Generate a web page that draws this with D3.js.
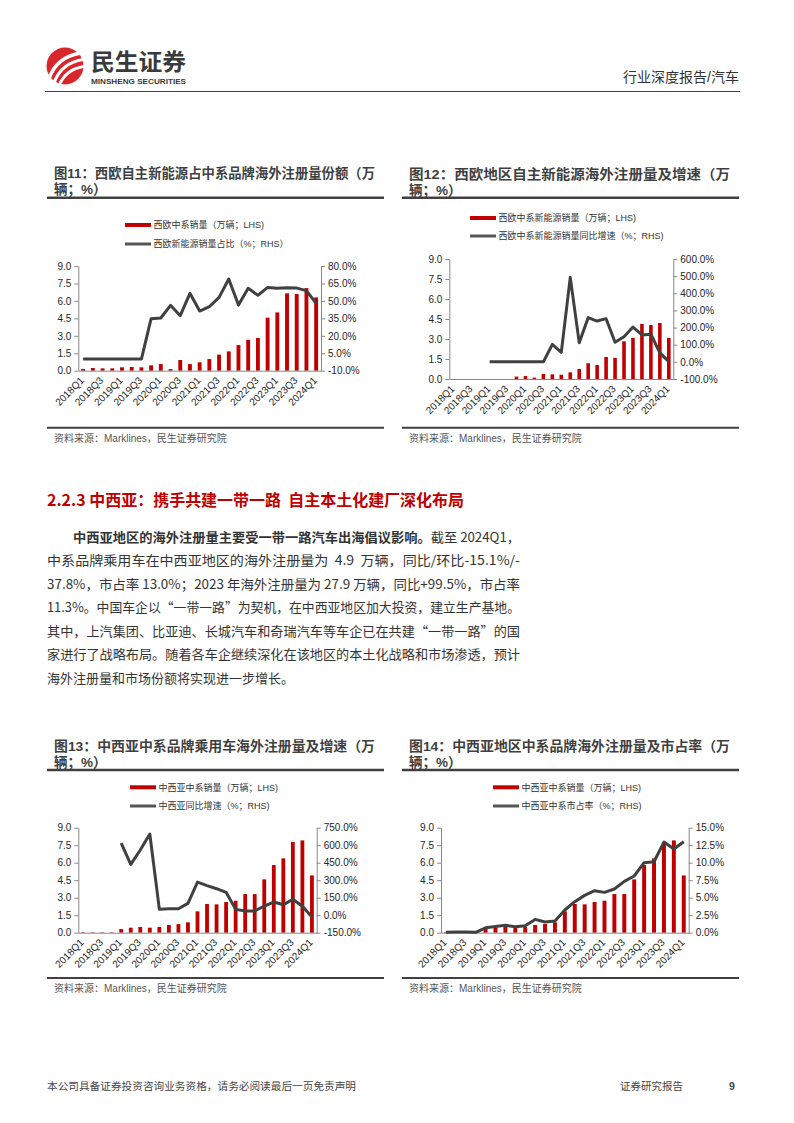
<!DOCTYPE html>
<html><head><meta charset="utf-8">
<script src="https://cdn.jsdelivr.net/npm/d3@7"></script>
<style>body{margin:0;background:#fff} svg{display:block}</style>
</head><body><svg id="page" width="794" height="1123"></svg>
<script>
// ---------- data ----------
const quarters = ["2018Q1","2018Q2","2018Q3","2018Q4","2019Q1","2019Q2","2019Q3","2019Q4",
  "2020Q1","2020Q2","2020Q3","2020Q4","2021Q1","2021Q2","2021Q3","2021Q4",
  "2022Q1","2022Q2","2022Q3","2022Q4","2023Q1","2023Q2","2023Q3","2023Q4","2024Q1"];
const xTickLabels = ["2018Q1","2018Q3","2019Q1","2019Q3","2020Q1","2020Q3","2021Q1","2021Q3",
  "2022Q1","2022Q3","2023Q1","2023Q3","2024Q1"];
const leftTicks = [0,1.5,3,4.5,6,7.5,9];

// Fig 11
const weSales = [0.15,0.23,0.2,0.2,0.29,0.32,0.29,0.46,0.57,0.14,0.92,0.57,0.72,1.0,1.38,1.66,2.2,2.66,2.81,4.56,5.01,6.65,6.59,7.1,6.3];
const weNevShare = [0,0,0,0,0,0,0,34.7,35.3,46.2,37.3,56.5,41.3,45,53,68.8,46.4,60.8,54.8,61.6,60.8,61.3,61,58.8,47.9];
const fig11RightTicks = [-10,5,20,35,50,65,80];
// Fig 12
const weNevSales = [0,0,0,0,0,0,0,0.18,0.22,0.1,0.38,0.35,0.32,0.5,0.75,1.18,1.05,1.65,1.58,2.83,3.08,4.13,4.05,4.2,3.08];
const weNevYoy = [null,null,null,null,0,0,0,0,0,0,0,102,55.6,493,112,258,238,252,114,147,203,157,161,52,1];
const fig12RightTicks = [-100,0,100,200,300,400,500,600];
// Fig 13
const cwaSales = [0.04,0.04,0.04,0.04,0.31,0.43,0.49,0.43,0.49,0.66,0.74,0.89,1.83,2.46,2.43,2.63,2.74,3.31,3.31,4.57,5.8,6.37,7.77,7.91,4.91];
const cwaYoy = [null,null,null,null,618.6,435.7,558.6,695.7,50,55.7,55.7,101,284,253,227,196,50,36,36,78.6,113,90,136,76,-15.1];
const fig13RightTicks = [-150,0,150,300,450,600,750];
// Fig 14
const cwaShare = [0.05,0.1,0.1,0.05,0.7,0.9,1.05,0.86,1.0,1.9,1.52,1.67,3.24,4.43,5.33,6.0,5.76,6.24,7.33,8.1,10.0,10.14,12.95,11.95,13.0];
const fig14RightTicks = [0,2.5,5,7.5,10,12.5,15];

// ---------- page ----------
const svg = d3.select("#page");
const CJK = "'Liberation Sans','Noto Sans CJK SC',sans-serif";
const RED = "#c00000", LINE = "#404040", TXT = "#333";

svg.append("rect").attr("width",794).attr("height",1123).attr("fill","#fff");

// header
const logo = svg.append("g");
logo.append("circle").attr("cx",65).attr("cy",66).attr("r",18.5).attr("fill","#d9262a");
[["M49,79 Q56,57 81,53",3.6],["M54,83 Q61,63 83,59.5",3.2],["M59,85.5 Q66,69 84,66.5",2.8]].forEach(p=>{
  logo.append("path").attr("d",p[0]).attr("fill","none").attr("stroke","#fff").attr("stroke-width",p[1]).attr("stroke-linecap","round");
});
svg.append("text").attr("x",91).attr("y",70).attr("font-family","'Noto Sans CJK SC'").attr("font-weight","bold")
  .attr("font-size",23).attr("fill","#3a3a3a").attr("textLength",95).attr("lengthAdjust","spacingAndGlyphs").text("民生证券");
svg.append("text").attr("x",91).attr("y",83.5).attr("font-family","'Liberation Sans'").attr("font-weight","bold")
  .attr("font-size",8).attr("fill","#3a3a3a").attr("textLength",95).attr("lengthAdjust","spacingAndGlyphs").text("MINSHENG SECURITIES");
svg.append("text").attr("x",739).attr("y",82).attr("text-anchor","end").attr("font-family",CJK)
  .attr("font-size",14).attr("fill",TXT).text("行业深度报告/汽车");
svg.append("line").attr("x1",45).attr("x2",740).attr("y1",91.5).attr("y2",91.5).attr("stroke","#444").attr("stroke-width",1.2);

// ---------- chart function ----------
function drawChart(cfg){
  const g = svg.append("g");
  // title
  g.append("text").attr("x",cfg.tx).attr("y",cfg.ty).attr("font-family",CJK).attr("font-weight","bold")
    .attr("font-size",13.5).attr("fill","#3f3f3f").attr("textLength",321).attr("lengthAdjust","spacingAndGlyphs").text(cfg.title1);
  g.append("text").attr("x",cfg.tx).attr("y",cfg.ty+16).attr("font-family",CJK).attr("font-weight","bold")
    .attr("font-size",13.5).attr("fill","#3f3f3f").text(cfg.title2);
  g.append("line").attr("x1",cfg.rx1).attr("x2",cfg.rx2).attr("y1",cfg.uy).attr("y2",cfg.uy).attr("stroke",LINE).attr("stroke-width",2.5);
  // legend
  g.append("line").attr("x1",cfg.lx).attr("x2",cfg.lx+26).attr("y1",cfg.ly1).attr("y2",cfg.ly1).attr("stroke",RED).attr("stroke-width",4);
  g.append("line").attr("x1",cfg.lx).attr("x2",cfg.lx+26).attr("y1",cfg.ly2).attr("y2",cfg.ly2).attr("stroke","#555").attr("stroke-width",3);
  g.append("text").attr("x",cfg.lx+28.5).attr("y",cfg.ly1+3.2).attr("font-family",CJK).attr("font-size",9).attr("fill",TXT).text(cfg.leg1);
  g.append("text").attr("x",cfg.lx+28.5).attr("y",cfg.ly2+3.2).attr("font-family",CJK).attr("font-size",9).attr("fill",TXT).text(cfg.leg2);

  const x = d3.scaleBand().domain(quarters).range([cfg.left,cfg.right]).paddingInner(0.6).paddingOuter(0.3);
  const yL = d3.scaleLinear().domain([0,9]).range([cfg.bottom,cfg.top]);
  const yR = d3.scaleLinear().domain([cfg.rTicks[0],cfg.rTicks[cfg.rTicks.length-1]]).range([cfg.bottom,cfg.top]);

  g.append("g").selectAll("rect").data(cfg.bars).join("rect")
    .attr("x",(d,i)=>x(quarters[i])).attr("width",x.bandwidth())
    .attr("y",d=>yL(d)).attr("height",d=>cfg.bottom-yL(d)).attr("fill",RED);

  const axL = g.append("g").attr("transform",`translate(${cfg.left},0)`)
    .call(d3.axisLeft(yL).tickValues(leftTicks).tickFormat(d3.format(".1f")).tickSize(4).tickSizeOuter(0).tickPadding(3));
  const axR = g.append("g").attr("transform",`translate(${cfg.right},0)`)
    .call(d3.axisRight(yR).tickValues(cfg.rTicks).tickFormat(d=>d.toFixed(1)+"%").tickSize(4).tickSizeOuter(0).tickPadding(3));
  const axB = g.append("g").attr("transform",`translate(0,${cfg.bottom})`)
    .call(d3.axisBottom(x).tickValues(xTickLabels).tickSize(0).tickSizeOuter(0));
  axB.selectAll("text").attr("x",null).attr("y",null).attr("dy","0.35em")
    .attr("transform",`translate(${x.bandwidth()/2-1},8) rotate(-45)`).style("text-anchor","end");
  [axL,axR,axB].forEach(a=>{
    a.selectAll("text").attr("font-family","'Liberation Sans',sans-serif").attr("font-size",10).attr("fill","#262626");
    a.selectAll("path,line").attr("stroke","#888");
  });
  axB.selectAll(".tick").attr("transform",d=>`translate(${x(d)},0)`);

  const line = d3.line().defined(d=>d!=null).x((d,i)=>x(quarters[i])+x.bandwidth()/2).y(d=>yR(d));
  g.append("path").datum(cfg.lineVals).attr("d",line).attr("fill","none").attr("stroke",LINE)
    .attr("stroke-width",3).attr("stroke-linejoin","round");

  // source
  g.append("line").attr("x1",cfg.rx1).attr("x2",cfg.rx2).attr("y1",cfg.sy).attr("y2",cfg.sy).attr("stroke",LINE).attr("stroke-width",2);
  g.append("text").attr("x",cfg.tx).attr("y",cfg.sy+14).attr("font-family",CJK).attr("font-size",10).attr("fill","#555")
    .text("资料来源：Marklines，民生证券研究院");
}

drawChart({title1:"图11：西欧自主新能源占中系品牌海外注册量份额（万",title2:"辆；%）",tx:54,ty:178,uy:197.7,rx1:47,rx2:384,
  lx:125,ly1:225,ly2:244,leg1:"西欧中系销量（万辆；LHS)",leg2:"西欧新能源销量占比（%；RHS）",
  left:78.3,right:321,top:266,bottom:370.7,bars:weSales,lineVals:weNevShare,rTicks:fig11RightTicks,sy:427.7});
drawChart({title1:"图12：西欧地区自主新能源海外注册量及增速（万",title2:"辆；%）",tx:409,ty:178.5,uy:197.7,rx1:402,rx2:739,
  lx:470,ly1:218,ly2:236,leg1:"西欧中系新能源销量（万辆；LHS)",leg2:"西欧中系新能源销量同比增速（%；RHS)",
  left:449.3,right:673.3,top:259,bottom:379,bars:weNevSales,lineVals:weNevYoy,rTicks:fig12RightTicks,sy:427.7});
drawChart({title1:"图13：中西亚中系品牌乘用车海外注册量及增速（万",title2:"辆；%）",tx:54,ty:750.5,uy:770,rx1:47,rx2:384,
  lx:130,ly1:787.3,ly2:806,leg1:"中西亚中系销量（万辆；LHS)",leg2:"中西亚同比增速（%；RHS)",
  left:78.3,right:316.7,top:827.7,bottom:932.7,bars:cwaSales,lineVals:cwaYoy,rTicks:fig13RightTicks,sy:978});
drawChart({title1:"图14：中西亚地区中系品牌海外注册量及市占率（万",title2:"辆；%）",tx:409,ty:750.5,uy:770,rx1:402,rx2:739,
  lx:493,ly1:787.3,ly2:806,leg1:"中西亚中系销量（万辆；LHS)",leg2:"中西亚中系市占率（%；RHS)",
  left:441,right:688.7,top:827.7,bottom:932.7,bars:cwaSales,lineVals:cwaShare,rTicks:fig14RightTicks,sy:978});

// ---------- section text ----------
svg.append("text").attr("x",47).attr("y",506).attr("font-family","'Noto Sans CJK SC'").attr("font-weight","bold")
  .attr("font-size",16).attr("fill","#c00000").attr("textLength",417).attr("lengthAdjust","spacingAndGlyphs")
  .style("white-space","pre").text("2.2.3 中西亚：携手共建一带一路  自主本土化建厂深化布局");

const paraFont = "'Noto Sans CJK SC',sans-serif";
const l1 = svg.append("text").attr("x",73).attr("y",541.5).attr("font-family",paraFont).attr("font-size",13)
  .attr("fill",TXT).attr("textLength",447).attr("lengthAdjust","spacingAndGlyphs").style("white-space","pre");
l1.append("tspan").attr("font-weight","bold").text("中西亚地区的海外注册量主要受一带一路汽车出海倡议影响。");
l1.append("tspan").text("截至 2024Q1，");
const paraLines = [
  "中系品牌乘用车在中西亚地区的海外注册量为  4.9  万辆，同比/环比-15.1%/-",
  "37.8%，市占率 13.0%；2023 年海外注册量为 27.9 万辆，同比+99.5%，市占率",
  "11.3%。中国车企以“一带一路”为契机，在中西亚地区加大投资，建立生产基地。",
  "其中，上汽集团、比亚迪、长城汽车和奇瑞汽车等车企已在共建“一带一路”的国",
  "家进行了战略布局。随着各车企继续深化在该地区的本土化战略和市场渗透，预计",
  "海外注册量和市场份额将实现进一步增长。"
];
paraLines.forEach((t,i)=>{
  const el = svg.append("text").attr("x",47).attr("y",541.5+23.5*(i+1)).attr("font-family",paraFont)
    .attr("font-size",13).attr("fill",TXT).style("white-space","pre").text(t);
  if(i<paraLines.length-1) el.attr("textLength",473).attr("lengthAdjust","spacingAndGlyphs");
});

// ---------- footer ----------
svg.append("text").attr("x",47).attr("y",1090).attr("font-family",CJK).attr("font-size",10).attr("fill","#444")
  .attr("textLength",309).attr("lengthAdjust","spacingAndGlyphs").text("本公司具备证券投资咨询业务资格，请务必阅读最后一页免责声明");
svg.append("text").attr("x",620).attr("y",1090).attr("font-family",CJK).attr("font-size",10.5).attr("fill","#444").text("证券研究报告");
svg.append("text").attr("x",729).attr("y",1090).attr("font-family",CJK).attr("font-weight","bold").attr("font-size",10.5).attr("fill","#444").text("9");
</script></body></html>
